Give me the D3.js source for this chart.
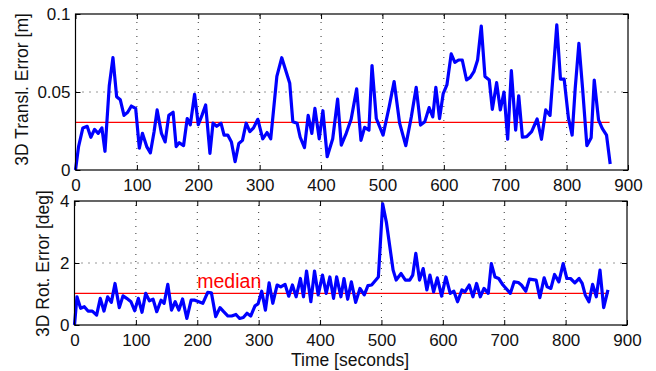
<!DOCTYPE html>
<html>
<head>
<meta charset="utf-8">
<script src="https://cdn.jsdelivr.net/npm/d3@7"></script>
<style>
  body { margin: 0; background: #fff; }
  svg { display: block; }
  .tick text { font-family: "Liberation Sans", Arial, sans-serif; font-size: 17px; fill: #111; }
  .label { font-family: "Liberation Sans", Arial, sans-serif; font-size: 17.5px; fill: #111; }
</style>
</head>
<body>
<div id="chart"></div>
<script>
// time stamps [s] and errors
const transTime = [0,5,12,19,25,31,37,43,48,55,61,67,73,79,85,91,98,104,109,116,122,128,133,140,146,152,159,164,169,176,182,187,194,200,206,212,219,224,230,237,242,248,254,260,266,272,278,284,290,297,
  305,312,318,328,336,349,354,361,366,373,379,385,390,397,403,410,419,427,433,441,449,458,465,471,478,483,490,501,511,519,528,538,547,555,562,569,576,582,587,593,599,
  605,612,618,624,630,637,643,649,655,661,667,674,679,686,692,698,704,710,717,722,728,735,743,752,759,766,773,784,790,796,803,809,814,820,826,833,840,845,852,858,865,871];
const transErr = [0,0.015,0.027,0.028,0.021,0.026,0.0235,0.027,0.012,0.054,0.072,0.047,0.045,0.035,0.037,0.041,0.0395,0.014,0.0235,0.015,0.011,0.0245,0.0385,0.0235,0.018,0.035,0.037,0.015,0.0175,0.0156,0.033,0.029,0.0485,0.029,0.035,0.0417,0.0107,0.030,0.028,0.030,0.0224,0.0224,0.018,0.0053,0.017,0.019,0.030,0.0246,0.027,0.0325,
  0.020,0.024,0.020,0.060,0.072,0.0556,0.031,0.030,0.021,0.0143,0.035,0.0235,0.0395,0.020,0.038,0.0085,0.020,0.0455,0.016,0.0235,0.0325,0.052,0.019,0.0273,0.0256,0.067,0.033,0.0224,0.0406,0.0567,0.030,0.0156,0.034,0.053,0.0288,0.031,0.040,0.034,0.053,0.033,0.049,
  0.0545,0.0744,0.069,0.0705,0.0705,0.0577,0.0594,0.063,0.0705,0.0923,0.060,0.0577,0.0389,0.056,0.0385,0.050,0.0197,0.0637,0.0256,0.0476,0.021,0.0214,0.0246,0.0327,0.0197,0.0385,0.035,0.093,0.0583,0.0583,0.0333,0.0224,0.0523,0.0812,0.0523,0.0156,0.0207,0.0577,0.0321,0.0267,0.0224,0.0038];

const rotTime = [0,4,10,16,22,29,36,42,48,54,60,66,73,79,85,92,98,104,110,116,122,128,134,141,146,152,158,164,170,176,183,190,196,209,217,223,230,237,243,250,256,263,269,275,281,287,294,299,
  305,311,317,323,330,336,343,349,355,361,368,373,378,385,391,397,404,410,416,422,427,434,439,445,451,458,465,472,478,484,495,502,508,519,524,532,539,546,551,556,562,568,574,579,585,591,598,
  605,612,618,624,631,636,643,649,655,661,667,674,679,685,691,698,710,716,723,728,735,741,752,758,765,770,776,782,789,796,802,808,815,822,827,832,838,844,850,856,862,869];
const rotErr = [0,0.91,0.54,0.59,0.45,0.45,0.32,0.86,0.45,0.91,0.73,1.34,0.56,0.94,0.86,0.75,0.46,0.86,0.41,1.02,0.78,0.83,0.43,0.80,0.70,1.31,0.48,0.75,0.48,0.84,0.21,0.80,0.80,0.70,1.05,1.04,0.27,0.56,0.43,0.29,0.29,0.34,0.21,0.24,0.38,0.29,0.62,0.68,
  1.09,0.48,1.36,0.70,1.29,1.23,1.31,0.93,1.29,0.91,1.50,0.91,1.74,0.75,1.74,0.97,1.61,1.02,1.55,0.86,1.55,0.91,1.50,0.83,1.39,0.73,1.18,0.97,1.27,1.29,1.55,3.91,3.32,1.77,1.45,1.66,1.45,1.45,1.61,2.31,1.45,1.82,1.13,1.61,1.07,1.52,0.93,
  1.55,1.02,1.09,0.75,1.13,1.07,1.29,0.91,1.34,0.91,1.18,1.02,1.98,1.55,1.50,1.29,1.02,1.39,1.37,1.29,1.09,1.48,1.45,0.88,1.52,1.23,1.18,1.63,1.39,1.98,1.50,1.50,1.36,1.50,1.34,0.97,0.75,1.31,0.91,1.77,0.56,1.13];

const transMedian = 0.0305;
const rotMedian = 1.02;
const medianSpan = [0, 870];
const xTicks = [0, 100, 200, 300, 400, 500, 600, 700, 800, 900];
const transTicks = [0, 0.05, 0.1];
const rotTicks = [0, 2, 4];

const W = 656, H = 371;
const svg = d3.select("#chart").append("svg").attr("width", W).attr("height", H);
svg.append("rect").attr("width", W).attr("height", H).attr("fill", "#fff");

function panel(opts) {
  const x = d3.scaleLinear().domain([0, 900]).range(opts.xr);
  const y = d3.scaleLinear().domain(opts.yd).range(opts.yr);
  const g = svg.append("g");

  // dotted grid
  g.append("g").selectAll("line").data(xTicks.slice(1, -1)).join("line")
    .attr("x1", d => x(d)).attr("x2", d => x(d))
    .attr("y1", opts.yr[0]).attr("y2", opts.yr[1])
    .attr("stroke", "#333").attr("stroke-width", 1).attr("stroke-dasharray", "1,6");
  g.append("g").selectAll("line").data(opts.ticks.slice(1, -1)).join("line")
    .attr("x1", opts.xr[0]).attr("x2", opts.xr[1])
    .attr("y1", d => y(d)).attr("y2", d => y(d))
    .attr("stroke", "#333").attr("stroke-width", 1).attr("stroke-dasharray", "1,6");

  // axes with inward ticks
  g.append("g").attr("transform", `translate(0,${opts.yr[0]})`)
    .call(d3.axisBottom(x).tickValues(xTicks).tickSize(-5).tickPadding(9).tickSizeOuter(0));
  g.append("g").attr("transform", `translate(${opts.xr[0]},0)`)
    .call(d3.axisLeft(y).tickValues(opts.ticks).tickFormat(d3.format("")).tickSize(-5).tickPadding(5).tickSizeOuter(0));
  g.append("g").attr("transform", `translate(0,${opts.yr[1]})`)
    .call(d3.axisTop(x).tickValues(xTicks).tickSize(-5).tickFormat("").tickSizeOuter(0));
  g.append("g").attr("transform", `translate(${opts.xr[1]},0)`)
    .call(d3.axisRight(y).tickValues(opts.ticks).tickSize(-5).tickFormat("").tickSizeOuter(0));
  g.selectAll(".domain").remove();
  g.selectAll(".tick line").attr("stroke", "#000");

  // median
  g.append("line")
    .attr("x1", x(medianSpan[0])).attr("x2", x(medianSpan[1]))
    .attr("y1", y(opts.median)).attr("y2", y(opts.median))
    .attr("stroke", "#ff0000").attr("stroke-width", 1.2);

  // series
  const pts = opts.t.map((t, i) => [t, opts.v[i]]);
  g.append("path").datum(pts)
    .attr("fill", "none").attr("stroke", "#0000ff").attr("stroke-width", 3.2)
    .attr("stroke-linejoin", "round")
    .attr("d", d3.line().x(d => x(d[0])).y(d => y(d[1])));

  // box
  g.append("rect")
    .attr("x", opts.xr[0]).attr("y", opts.yr[1])
    .attr("width", opts.xr[1] - opts.xr[0]).attr("height", opts.yr[0] - opts.yr[1])
    .attr("fill", "none").attr("stroke", "#000").attr("stroke-width", 1.2);

  g.append("text").attr("class", "label")
    .attr("transform", `translate(${opts.labelX},${(opts.yr[0] + opts.yr[1]) / 2 + opts.labelDy}) rotate(-90)`)
    .attr("text-anchor", "middle").attr("dy", "0.35em")
    .text(opts.label);
  return { x, y, g };
}

panel({ xr: [75.5, 628], yr: [170, 14], yd: [0, 0.1], ticks: transTicks,
  t: transTime, v: transErr, median: transMedian,
  label: "3D Transl. Error [m]", labelX: 22, labelDy: -2.5 });

const bottom = panel({ xr: [74.5, 627], yr: [325, 201], yd: [0, 4], ticks: rotTicks,
  t: rotTime, v: rotErr, median: rotMedian,
  label: "3D Rot. Error [deg]", labelX: 43, labelDy: 0.5 });

bottom.g.append("text")
  .attr("x", bottom.x(200)).attr("y", 288)
  .attr("font-family", "Liberation Sans, Arial, sans-serif").attr("font-size", 19.5)
  .attr("fill", "#ff0000")
  .text("median");

svg.append("text").attr("class", "label")
  .attr("x", 350).attr("y", 366).attr("text-anchor", "middle")
  .text("Time [seconds]");
</script>
</body>
</html>
